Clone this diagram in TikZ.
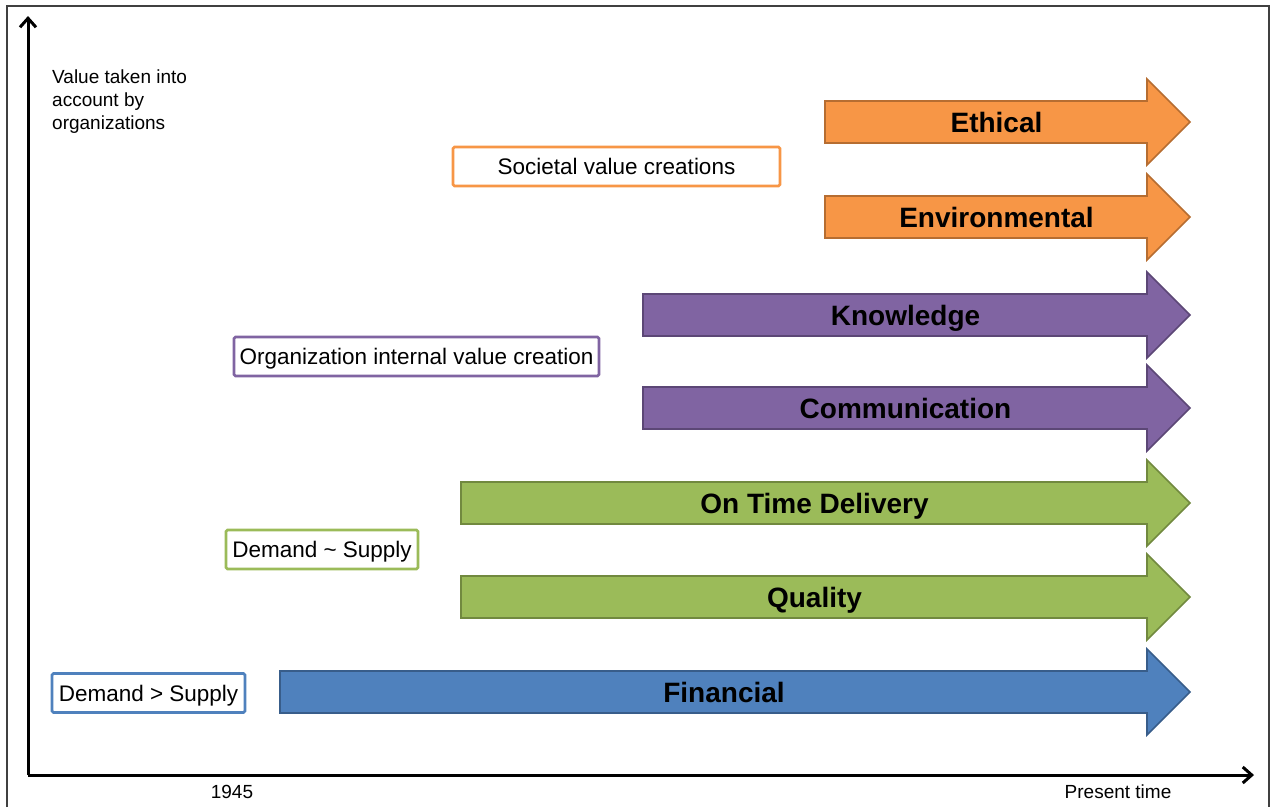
\documentclass[tikz,border=0pt]{standalone}
\usepackage{fontspec}
\setmainfont{Liberation Sans}
\usetikzlibrary{arrows.meta}
\definecolor{fillorange}{HTML}{F79646}
\definecolor{lineorange}{HTML}{B66D31}
\definecolor{fillpurple}{HTML}{8064A2}
\definecolor{linepurple}{HTML}{5C4776}
\definecolor{fillgreen}{HTML}{9BBB59}
\definecolor{linegreen}{HTML}{71893F}
\definecolor{fillblue}{HTML}{4F81BD}
\definecolor{lineblue}{HTML}{385D8A}
\definecolor{framegray}{HTML}{404040}
\begin{document}
\begin{tikzpicture}[x=1pt,y=-1pt,
        valbox/.style={draw, line width=2.8pt, rounded corners=1.5pt, fill=white, inner sep=0pt,
            minimum height=39pt, text height=16pt, text depth=0pt, font=\fontsize{22.5}{27}\selectfont},
        trend/.style={line width=1.6pt, line join=miter},
        trendlabel/.style={inner sep=0pt, text height=20pt, text depth=0pt,
            font=\bfseries\fontsize{28}{32}\selectfont},
        axislabel/.style={inner sep=0pt, font=\fontsize{19}{23}\selectfont}]
            \useasboundingbox (0,0) rectangle (1277,807);

            % Frame
            \draw[framegray, line width=1.5pt] (7,807) -- (7,6) -- (1269,6) -- (1269,807);

            % Axes
            \coordinate (origin) at (28,775);
            \coordinate (ytop) at (28,16);
            \coordinate (xend) at (1254,775);
            \draw[line width=3pt, -{Straight Barb[length=9pt,width=16pt]}] (origin) -- (ytop);
            \draw[line width=3pt, -{Straight Barb[length=9pt,width=16pt]}] (origin) -- (xend);
            \node[axislabel, anchor=north west, align=left] (value) at (52,70) {Value taken into\\account by\\organizations};
            \node[axislabel] (start) at (232,792) {1945};
            \node[axislabel] (present) at (1118,792) {Present time};

            % Value arrows
            \foreach \name/\start/\y/\col/\txt in {
                ethical/825/122/orange/Ethical,
                environmental/825/217/orange/Environmental,
                knowledge/643/315/purple/Knowledge,
                communication/643/408/purple/Communication,
                delivery/461/503/green/On Time Delivery,
                quality/461/597/green/Quality,
                financial/280/692/blue/Financial} {
                \draw[trend, fill=fill\col, draw=line\col] (\start,\y-21) -- (1147,\y-21) -- (1147,\y-43)
                    -- (1190,\y) -- (1147,\y+43) -- (1147,\y+21) -- (\start,\y+21) -- cycle;
                \node[trendlabel] (\name) at ({(\start+1168)/2},\y) {\txt};
            }

            % Period boxes
            \node[valbox, draw=fillorange, minimum width=327pt] (societal) at (616.5,166.5) {Societal value creations};
            \node[valbox, draw=fillpurple, minimum width=365pt] (internal) at (416.5,356.5) {Organization internal value creation};
            \node[valbox, draw=fillgreen, minimum width=192pt] (balance) at (322,549.5) {Demand \textasciitilde\ Supply};
            \node[valbox, draw=fillblue, minimum width=193pt] (excess) at (148.5,693) {Demand > Supply};
        \end{tikzpicture}
\end{document}
